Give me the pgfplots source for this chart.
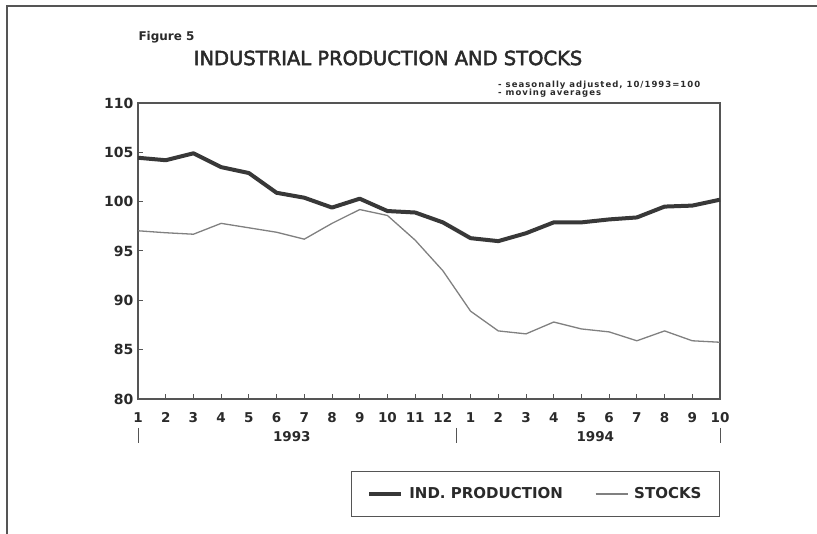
\documentclass[border=0pt]{standalone}
\usepackage{fontspec}
\setmainfont{DejaVu Sans}
\newfontfamily\subfont[LetterSpace=12]{DejaVu Sans}
\newfontfamily\titlefont[FakeBold=2.5]{DejaVu Sans}
\usepackage{pgfplots}
\pgfplotsset{compat=1.18}

\definecolor{ink}{HTML}{2A2A2A}
\definecolor{axisc}{HTML}{555555}
\definecolor{prodc}{HTML}{383838}
\definecolor{stockc}{HTML}{808080}

%% month index 0 = 1/1993 ... 21 = 10/1994
\pgfplotstableread{
m  prod    stocks
0  104.45  97.05
1  104.2   96.85
2  104.9   96.7
3  103.5   97.8
4  102.9   97.35
5  100.9   96.9
6  100.4   96.2
7  99.4    97.8
8  100.3   99.2
9  99.05   98.6
10 98.9    96.1
11 97.9    93.0
12 96.3    88.9
13 96.0    86.9
14 96.8    86.6
15 97.9    87.8
16 97.9    87.1
17 98.2    86.8
18 98.4    85.9
19 99.5    86.9
20 99.6    85.9
21 100.2   85.75
}\ipdata

\begin{document}
\begin{tikzpicture}[x=1pt,y=1pt]
\useasboundingbox (0,0) rectangle (817,534);
% page frame
\draw[line width=2pt, color=axisc] (7,0) -- (7,528) -- (817,528);

\node[anchor=west, text=ink, font=\bfseries\fontsize{12}{13}\selectfont] at (135,497) {Figure 5};
\node[text=ink, font=\titlefont\fontsize{19.5}{22}\selectfont] at (388,476) {INDUSTRIAL PRODUCTION AND STOCKS};
\node[anchor=west, text=ink, inner sep=0pt, font=\subfont\bfseries\fontsize{8.5}{9}\selectfont] at (498,449) {- seasonally adjusted, 10/1993=100};
\node[anchor=west, text=ink, inner sep=0pt, font=\subfont\bfseries\fontsize{8.5}{9}\selectfont] at (498,441) {- moving averages};

\begin{axis}[
  at={(138pt,135pt)}, anchor=south west,
  width=582pt, height=296pt, scale only axis,
  xmin=0, xmax=21, ymin=80, ymax=110,
  axis line style={color=axisc, line width=1.2pt},
  xtick={0,...,21},
  xticklabels={1,2,3,4,5,6,7,8,9,10,11,12,1,2,3,4,5,6,7,8,9,10},
  ytick={80,85,90,95,100,105,110},
  yticklabels={80,85,90,95,100,105,110},
  xtick pos=lower, ytick pos=left,
  tick align=inside,
  major tick length=5pt,
  tick style={color=axisc, line width=1pt},
  xticklabel style={text=ink, font=\bfseries\fontsize{13.5}{15}\selectfont, yshift=-10pt},
  yticklabel style={text=ink, font=\bfseries\fontsize{14}{16}\selectfont, xshift=-1pt},
  clip=false,
  legend columns=2,
  legend style={at={(1,0)}, anchor=north east, yshift=-72pt,
    draw=axisc, line width=1.1pt, fill=white,
    inner xsep=16pt, inner ysep=14pt,
    font=\bfseries\fontsize{15}{17}\selectfont, text=ink},
  legend image code/.code={\draw[#1] (0pt,0pt) -- (32pt,0pt);},
  /tikz/every odd column/.append style={column sep=4pt},
  /tikz/every even column/.append style={column sep=30pt},
]
\addplot[color=stockc, line width=1.3pt, forget plot] table[x=m, y=stocks] {\ipdata};
\addplot[color=prodc, line width=4pt, line join=round] table[x=m, y=prod] {\ipdata};
\addlegendentry{IND. PRODUCTION}
\addlegendimage{color=stockc, line width=1.3pt}
\addlegendentry{STOCKS}

% year labels and separators
\node[text=ink, font=\bfseries\fontsize{13.5}{15}\selectfont] at (axis cs:5.55,80) [yshift=-38pt] {1993};
\node[text=ink, font=\bfseries\fontsize{13.5}{15}\selectfont] at (axis cs:16.5,80) [yshift=-38pt] {1994};
\draw[color=axisc, line width=1pt] ([yshift=-29pt]axis cs:0,80) -- ([yshift=-44pt]axis cs:0,80);
\draw[color=axisc, line width=1pt] ([yshift=-29pt]axis cs:11.5,80) -- ([yshift=-44pt]axis cs:11.5,80);
\draw[color=axisc, line width=1pt] ([yshift=-29pt]axis cs:21,80) -- ([yshift=-44pt]axis cs:21,80);
\end{axis}
\end{tikzpicture}
\end{document}
